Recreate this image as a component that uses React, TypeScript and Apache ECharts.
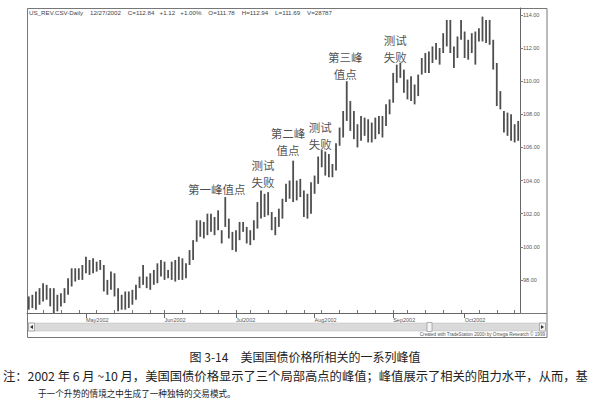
import React, { useEffect, useRef } from "react";
import * as echarts from "echarts";

// Trading days per month (2002)
const aprDays = [9, 10, 11, 12, 15, 16, 17, 18, 19, 22, 23, 24, 25, 26, 29, 30];
const mayDays = [1, 2, 3, 6, 7, 8, 9, 10, 13, 14, 15, 16, 17, 20, 21, 22, 23, 24, 28, 29, 30, 31];
const junDays = [3, 4, 5, 6, 7, 10, 11, 12, 13, 14, 17, 18, 19, 20, 21, 24, 25, 26, 27, 28];
const julDays = [1, 2, 3, 5, 8, 9, 10, 11, 12, 15, 16, 17, 18, 19, 22, 23, 24, 25, 26, 29, 30, 31];
const augDays = [1, 2, 5, 6, 7, 8, 9, 12, 13, 14, 15, 16, 19, 20, 21, 22, 23, 26, 27, 28, 29, 30];
const sepDays = [3, 4, 5, 6, 9, 10, 11, 12, 13, 16, 17, 18, 19, 20, 23, 24, 25, 26, 27, 30];
const octDays = [1, 2, 3, 4, 7, 8, 9, 10, 11, 14, 15, 16, 17, 18, 21, 22];
const monthNames = ["Apr", "May", "Jun", "Jul", "Aug", "Sep", "Oct"];
const monthDayLists = [aprDays, mayDays, junDays, julDays, augDays, sepDays, octDays];

// Daily highs / lows
const highs = [
  97.0, 97.1, 97.3, 97.5, 97.8, 97.7, 97.5, 97.5, 97.1, 97.2,
  97.5, 98.1, 98.7, 98.7, 98.7, 98.9, 99.4, 99.2, 99.3, 99.1,
  99.2, 98.9, 98.0, 98.5, 98.4, 97.5, 97.1, 97.3, 97.3, 97.4,
  97.7, 98.2, 98.9, 98.2, 98.4, 98.6, 99.0, 99.2, 99.1, 98.6,
  99.1, 99.2, 99.4, 99.3, 99.0, 99.8, 100.4, 101.6, 101.6, 101.5,
  102.0, 102.0, 101.8, 102.2, 101.0, 103.0, 101.7, 100.9, 101.0, 101.5,
  101.5, 101.2, 101.0, 101.6, 102.7, 103.4, 103.2, 103.3, 102.1, 101.8,
  102.3, 102.9, 103.8, 104.0, 105.2, 104.0, 104.1, 103.4, 103.2, 103.9,
  104.3, 105.45, 105.85, 105.75, 105.6, 105.0, 106.25, 107.2, 108.2, 110.0,
  108.8, 108.2, 107.4, 107.9, 107.8, 107.7, 107.5, 107.8, 107.9, 107.9,
  108.6, 108.9, 110.5, 111.0, 111.1, 110.7, 110.1, 110.3, 109.8, 110.4,
  111.4, 111.7, 111.8, 112.1, 112.3, 112.0, 112.9, 113.7, 113.7, 112.1,
  112.7, 113.7, 113.0, 112.5, 112.9, 113.0, 113.2, 113.9, 113.7, 113.7,
  112.5, 111.1, 109.4, 108.2, 108.1, 108.0, 107.4, 107.6,
];
const lows = [
  96.2, 96.3, 96.2, 96.5, 96.7, 96.8, 96.4, 96.0, 96.1, 96.4,
  96.6, 97.1, 97.6, 97.9, 98.0, 98.0, 98.4, 98.3, 98.4, 98.5,
  98.6, 97.3, 97.1, 97.4, 97.0, 96.1, 96.2, 96.2, 96.3, 96.5,
  96.8, 97.5, 97.7, 97.5, 97.4, 97.7, 97.8, 98.2, 98.0, 98.1,
  98.0, 97.9, 98.0, 98.0, 98.1, 98.9, 99.2, 100.3, 100.6, 100.5,
  100.7, 100.9, 100.7, 101.0, 100.2, 101.2, 100.5, 99.8, 99.7, 100.4,
  100.9, 100.2, 100.1, 100.4, 101.1, 101.7, 101.8, 101.9, 101.0, 100.7,
  101.2, 101.7, 102.7, 102.9, 102.7, 102.8, 103.0, 101.8, 101.7, 102.0,
  103.2, 103.8, 104.8, 104.3, 104.2, 104.2, 104.6, 106.1, 106.6, 107.6,
  107.0, 106.5, 106.0, 106.4, 106.7, 106.3, 106.3, 106.5, 106.8, 106.6,
  107.3, 108.0, 108.7, 109.9, 110.2, 109.3, 108.9, 108.8, 108.6, 109.1,
  110.4, 110.5, 110.5, 111.1, 111.3, 111.0, 111.7, 112.1, 111.7, 110.8,
  111.4, 112.5, 111.4, 111.3, 111.7, 111.0, 112.4, 112.4, 112.3, 112.2,
  110.7, 108.5, 108.3, 106.9, 106.7, 106.4, 106.3, 106.4,
];

// Annotations (anchor category index, price)
const annoTexts = ["第一峰值点", "测试\n失败", "第二峰\n值点", "测试\n失败", "第三峰\n值点", "测试\n失败"];
const annoIdx = [53, 66, 73, 82, 89, 103];
const annoPrice = [103.49, 104.43, 106.36, 106.75, 110.95, 111.95];

// y axis
const yMin = 96;
const yMax = 114.42;
const yStep = 2;

const headerText =
  "US_REV.CSV-Daily    12/27/2002    C=112.84   +1.12   +1.00%    O=111.78    H=112.94    L=111.69    V=28787";
const captionTitle = "图 3-14　美国国债价格所相关的一系列峰值";
const noteLine1 =
  "注：2002 年 6 月 ~10 月，美国国债价格显示了三个局部高点的峰值；峰值展示了相关的阻力水平，从而，基";
const noteLine2 = "于一个升势的情境之中生成了一种独特的交易模式。";
const creditText = "Created with TradeStation 2000i by Omega Research © 1999";

const dates: string[] = [];
const monthStart: boolean[] = [];
const weekStart: boolean[] = [];
{
  let prevDow = 99;
  monthDayLists.forEach((days, mi) => {
    days.forEach((d, j) => {
      const mm = String(mi + 4).padStart(2, "0");
      const dd = String(d).padStart(2, "0");
      dates.push(`2002-${mm}-${dd}`);
      monthStart.push(j === 0 && mi > 0);
      const dow = new Date(2002, mi + 3, d).getDay();
      weekStart.push(dow <= prevDow && dates.length > 1);
      prevDow = dow;
    });
  });
}

const CJK = '"Noto Sans CJK SC", "Noto Sans CJK JP", sans-serif';
const ARIAL = "Arial, 'Liberation Sans', sans-serif";

export default function App() {
  const ref = useRef<HTMLDivElement>(null);
  useEffect(() => {
    document.body.style.margin = "0";
    if (!ref.current) return;
    const chart = echarts.init(ref.current, undefined, { renderer: "svg" });
    const barData = highs.map((h, i) => [i, h, lows[i]]);
    const option: any = {
      animation: false,
      backgroundColor: "#ffffff",
      grid: { left: 27, top: 8, width: 493, height: 305 },
      xAxis: [
        {
          type: "category",
          data: dates,
          boundaryGap: true,
          axisLine: { show: true, lineStyle: { color: "#666", width: 1 } },
          axisTick: {
            show: true,
            inside: true,
            length: 3,
            alignWithLabel: true,
            interval: (idx: number) => weekStart[idx],
            lineStyle: { color: "#777" },
          },
          axisLabel: {
            show: true,
            interval: (idx: number) => monthStart[idx],
            formatter: (v: string) => monthNames[parseInt(v.slice(5, 7), 10) - 4] + "2002",
            align: "left",
            fontSize: 5.5,
            color: "#555",
            fontFamily: ARIAL,
            margin: 4,
          },
          splitLine: { show: false },
        },
        {
          type: "category",
          data: dates,
          position: "bottom",
          boundaryGap: true,
          axisLine: { show: false },
          axisTick: {
            show: true,
            length: 5,
            alignWithLabel: true,
            interval: (idx: number) => monthStart[idx],
            lineStyle: { color: "#666" },
          },
          axisLabel: { show: false },
          splitLine: { show: false },
        },
      ],
      yAxis: {
        type: "value",
        position: "right",
        min: yMin,
        max: yMax,
        interval: yStep,
        axisLine: { show: true, lineStyle: { color: "#666" } },
        axisTick: { show: true, length: 3, lineStyle: { color: "#777" } },
        axisLabel: {
          fontSize: 5.5,
          color: "#555",
          margin: 3,
          showMaxLabel: false,
          fontFamily: ARIAL,
          formatter: (v: number) => (v < yMin + 1 || v > 114.1 ? "" : v.toFixed(2)),
        },
        splitLine: { show: false },
      },
      series: [
        {
          type: "custom",
          xAxisIndex: 0,
          yAxisIndex: 0,
          data: barData,
          encode: { x: 0, y: [1, 2] },
          renderItem: (_params: any, api: any) => {
            const x = api.value(0);
            const top = api.coord([x, api.value(1)]);
            const bot = api.coord([x, api.value(2)]);
            return {
              type: "line",
              shape: { x1: top[0], y1: top[1], x2: bot[0], y2: bot[1] },
              style: { stroke: "#4e4e4e", lineWidth: 1.8 },
            };
          },
          silent: true,
        },
        {
          type: "scatter",
          xAxisIndex: 0,
          data: annoIdx.map((i, k) => [i, annoPrice[k]]),
          symbolSize: 1,
          itemStyle: { color: "rgba(0,0,0,0)" },
          silent: true,
          z: 10,
          label: {
            show: true,
            position: "inside",
            offset: [-1.5, 0],
            formatter: (p: any) => annoTexts[p.dataIndex],
            fontSize: 11.5,
            lineHeight: 17,
            color: "#1e1e1e",
            fontFamily: CJK,
            align: "center",
            verticalAlign: "middle",
          },
        },
      ],
      graphic: [
        // outer frame
        {
          type: "rect",
          shape: { x: 27.5, y: 8.5, width: 519.5, height: 329 },
          style: { fill: "none", stroke: "#777", lineWidth: 1 },
        },
        {
          type: "line",
          shape: { x1: 520, y1: 313.5, x2: 547, y2: 313.5 },
          style: { stroke: "#777", lineWidth: 1 },
        },
        // scroll bar
        {
          type: "rect",
          shape: { x: 28, y: 323, width: 518, height: 8 },
          style: { fill: "#dadada", stroke: "#bbb", lineWidth: 0.5 },
        },
        {
          type: "rect",
          shape: { x: 28.5, y: 323, width: 6, height: 8 },
          style: { fill: "#f2f2f2", stroke: "#888", lineWidth: 0.6 },
        },
        {
          type: "polygon",
          shape: { points: [[30, 327], [33, 325], [33, 329]] },
          style: { fill: "#333" },
        },
        {
          type: "rect",
          shape: { x: 539.5, y: 323, width: 6, height: 8 },
          style: { fill: "#f2f2f2", stroke: "#888", lineWidth: 0.6 },
        },
        {
          type: "polygon",
          shape: { points: [[544, 327], [541, 325], [541, 329]] },
          style: { fill: "#333" },
        },
        {
          type: "rect",
          shape: { x: 427, y: 322.5, width: 5, height: 9 },
          style: { fill: "#f4f4f4", stroke: "#888", lineWidth: 0.6 },
        },
        {
          type: "text",
          x: 545,
          y: 334.5,
          style: {
            text: creditText,
            fontSize: 4.6,
            fontFamily: ARIAL,
            fill: "#555",
            align: "right",
            textAlign: "right",
            verticalAlign: "middle",
            textVerticalAlign: "middle",
          },
        },
        // header
        {
          type: "text",
          x: 29,
          y: 12.5,
          style: {
            text: headerText,
            fontSize: 6.2,
            fontFamily: ARIAL,
            fill: "#444",
            verticalAlign: "middle",
            textVerticalAlign: "middle",
          },
        },
        // caption
        {
          type: "text",
          x: 305,
          y: 356,
          style: {
            text: captionTitle,
            fontSize: 12,
            fontFamily: CJK,
            fill: "#222",
            align: "center",
            textAlign: "center",
            verticalAlign: "middle",
            textVerticalAlign: "middle",
          },
        },
        {
          type: "text",
          x: 3,
          y: 376,
          style: {
            text: noteLine1,
            fontSize: 12.3,
            fontFamily: CJK,
            fill: "#222",
            verticalAlign: "middle",
            textVerticalAlign: "middle",
          },
        },
        {
          type: "text",
          x: 38,
          y: 393,
          style: {
            text: noteLine2,
            fontSize: 8.6,
            fontFamily: CJK,
            fill: "#222",
            verticalAlign: "middle",
            textVerticalAlign: "middle",
          },
        },
      ],
    };
    chart.setOption(option);
    return () => chart.dispose();
  }, []);
  return <div ref={ref} style={{ width: 595, height: 410 }} />;
}
